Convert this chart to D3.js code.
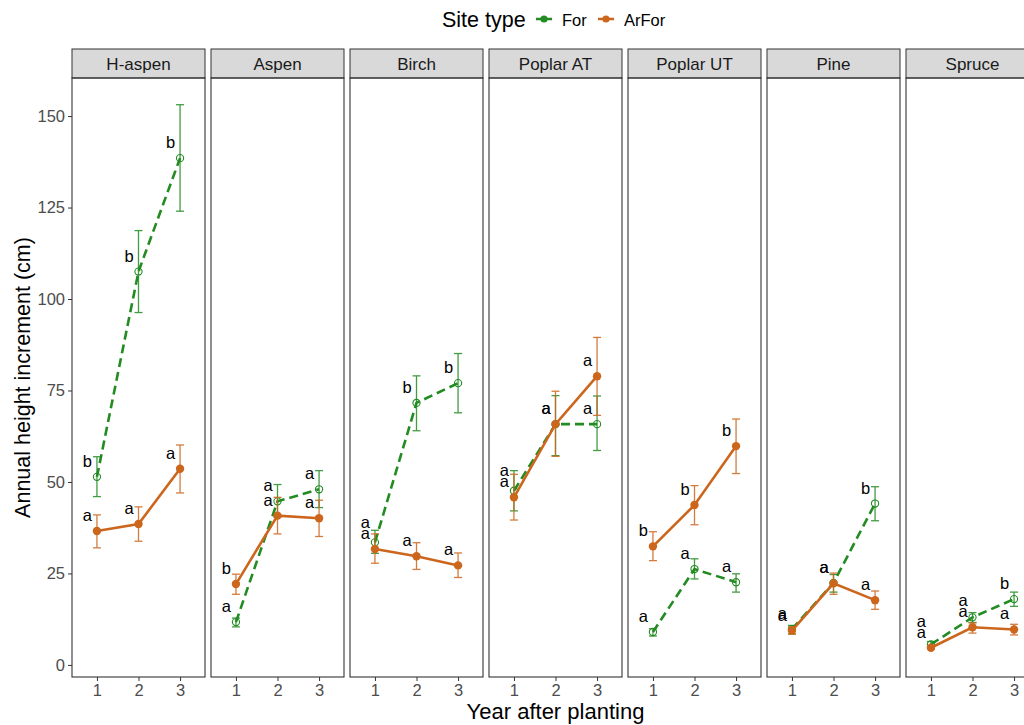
<!DOCTYPE html>
<html>
<head>
<meta charset="utf-8">
<script src="https://cdn.jsdelivr.net/npm/d3@7"></script>
<style>
  body { margin: 0; background: #fff; }
  svg text { font-family: "Liberation Sans", Arial, sans-serif; }
  .tick text { fill: #4d4d4d; font-size: 16.5px; }
  .tick line { stroke: #333; }
  .domain { display: none; }
</style>
</head>
<body>
<svg id="chart"></svg>
<script>
// facets, years, groups
const species = ["H-aspen", "Aspen", "Birch", "Poplar AT", "Poplar UT", "Pine", "Spruce"];
const years = [1, 2, 3];
const siteTypes = ["For", "ArFor"];
const yTicks = [0, 25, 50, 75, 100, 125, 150];

// "For" sites (green, dashed, open points)
const forMean = [[51.4, 107.5, 138.5], [11.7, 44.7, 48.0], [33.5, 71.6, 77.0], [47.6, 65.8, 65.8], [9.0, 26.2, 22.6], [9.8, 22.4, 44.1], [5.6, 13.0, 18.0]];
const forLow = [[46.0, 96.3, 124.0], [10.4, 40.4, 43.0], [30.5, 64.0, 68.9], [42.1, 57.2, 58.6], [7.9, 23.5, 19.9], [8.5, 19.9, 39.4], [5.0, 11.6, 16.0]];
const forHigh = [[56.9, 118.7, 153.1], [12.8, 49.3, 53.1], [36.8, 79.0, 85.1], [53.1, 73.6, 73.5], [9.9, 29.0, 24.9], [10.8, 24.7, 48.7], [6.4, 14.3, 19.9]];
const forLetters = [["b", "b", "b"], ["a", "a", "a"], ["a", "b", "b"], ["a", "a", "a"], ["a", "a", "a"], ["a", "a", "b"], ["a", "a", "b"]];

// "ArFor" sites (orange, solid, filled points)
const arForMean = [[36.6, 38.5, 53.6], [22.1, 40.8, 40.1], [31.7, 29.7, 27.2], [45.8, 65.8, 78.9], [32.4, 43.7, 59.8], [9.4, 22.3, 17.7], [4.7, 10.3, 9.7]];
const arForLow = [[32.0, 33.8, 47.0], [19.3, 35.8, 35.1], [27.8, 26.1, 23.9], [39.6, 57.0, 68.2], [28.5, 38.3, 52.3], [8.4, 19.3, 15.2], [4.3, 8.7, 8.2]];
const arForHigh = [[41.0, 43.2, 60.1], [24.8, 45.8, 45.0], [35.8, 33.4, 30.6], [52.1, 74.8, 89.5], [36.4, 49.0, 67.2], [10.4, 25.1, 20.2], [5.3, 11.5, 11.1]];
const arForLetters = [["a", "a", "a"], ["b", "a", "a"], ["a", "a", "a"], ["a", "a", "a"], ["b", "b", "b"], ["a", "a", "a"], ["a", "a", "a"]];

const colors = { For: "#228B22", ArFor: "#CD661D" };

class FacetChart {
    constructor(_config) {
        this.config = {
            parentElement: _config.parentElement,
            containerWidth: _config.containerWidth || 1024,
            containerHeight: _config.containerHeight || 725,
            margin: _config.margin || { top: 78, left: 72, bottom: 48 },
            stripHeight: 29,
            facetStep: 139
        };
        this.initVis();
    }

    initVis() {
        let vis = this;
        const m = vis.config.margin;
        vis.height = vis.config.containerHeight - m.top - m.bottom;

        // build long-format rows from the arrays
        vis.rows = [];
        species.forEach((sp, i) => {
            years.forEach((yr, j) => {
                vis.rows.push({ species: sp, year: yr, group: "For", mean: forMean[i][j], low: forLow[i][j], high: forHigh[i][j], letter: forLetters[i][j] });
                vis.rows.push({ species: sp, year: yr, group: "ArFor", mean: arForMean[i][j], low: arForLow[i][j], high: arForHigh[i][j], letter: arForLetters[i][j] });
            });
        });

        const pad = 6 / vis.config.facetStep;
        vis.facetScale = d3.scaleBand()
            .domain(species)
            .range([m.left, m.left + species.length * vis.config.facetStep - 6])
            .paddingInner(pad)
            .paddingOuter(0);
        vis.bw = vis.facetScale.bandwidth();

        vis.xScale = d3.scaleLinear().domain([0.4, 3.6]).range([0, vis.bw]);
        vis.yScale = d3.scaleLinear().domain([-3.3, 160.4]).range([m.top + vis.height, m.top]);

        vis.svg = d3.select(vis.config.parentElement)
            .attr('width', vis.config.containerWidth)
            .attr('height', vis.config.containerHeight);

        // y axis on the first facet only
        vis.svg.append('g')
            .attr('transform', `translate(${m.left},0)`)
            .call(d3.axisLeft(vis.yScale).tickValues(yTicks).tickSize(4).tickPadding(3));

        // legend
        const lg = vis.svg.append('g').attr('class', 'legend');
        lg.append('text').attr('x', 442).attr('y', 27).attr('font-size', 21.5).attr('fill', '#000').text('Site type');
        const keyX = { For: 536, ArFor: 598 };
        siteTypes.forEach(g => {
            lg.append('line').attr('x1', keyX[g]).attr('x2', keyX[g] + 16).attr('y1', 19).attr('y2', 19)
                .attr('stroke', colors[g]).attr('stroke-width', 2.5);
            lg.append('circle').attr('cx', keyX[g] + 8).attr('cy', 19).attr('r', 3.6).attr('fill', colors[g]);
            lg.append('text').attr('x', keyX[g] + 26).attr('y', 26).attr('font-size', 16.5).attr('fill', '#000').text(g);
        });

        // axis titles
        vis.svg.append('text')
            .attr('x', (vis.facetScale.range()[0] + vis.facetScale.range()[1]) / 2)
            .attr('y', 719)
            .attr('text-anchor', 'middle')
            .attr('font-size', 22)
            .text('Year after planting');
        vis.svg.append('text')
            .attr('transform', `translate(30,${m.top + vis.height / 2}) rotate(-90)`)
            .attr('text-anchor', 'middle')
            .attr('font-size', 21.5)
            .text('Annual height increment (cm)');

        vis.renderVis();
    }

    renderVis() {
        let vis = this;
        const m = vis.config.margin;
        const line = d3.line().x(d => vis.xScale(d.year)).y(d => vis.yScale(d.mean));

        species.forEach(sp => {
            const fx = vis.facetScale(sp);
            const panel = vis.svg.append('g').attr('transform', `translate(${fx},0)`);

            // strip
            panel.append('rect')
                .attr('x', 0).attr('y', m.top - vis.config.stripHeight)
                .attr('width', vis.bw).attr('height', vis.config.stripHeight)
                .attr('fill', '#d9d9d9').attr('stroke', '#333').attr('stroke-width', 1);
            panel.append('text')
                .attr('x', vis.bw / 2).attr('y', m.top - vis.config.stripHeight / 2 + 6)
                .attr('text-anchor', 'middle').attr('font-size', 17).attr('fill', '#1a1a1a')
                .text(sp);

            // x axis
            panel.append('g')
                .attr('transform', `translate(0,${m.top + vis.height})`)
                .call(d3.axisBottom(vis.xScale).tickValues(years).tickFormat(d3.format('d')).tickSize(4).tickPadding(3));

            const data = vis.rows.filter(r => r.species === sp);

            // label positions: above-left of each point; near-colliding pairs get stacked
            data.forEach(d => { d.ly = vis.yScale(d.mean) - 10; });
            years.forEach(yr => {
                const f = data.find(d => d.year === yr && d.group === 'For');
                const a = data.find(d => d.year === yr && d.group === 'ArFor');
                const gap = Math.abs(f.ly - a.ly);
                if (gap > 2 && gap < 11) {
                    const up = f.ly < a.ly ? f : a;
                    const down = up === f ? a : f;
                    up.ly = down.ly - 11;
                }
            });

            siteTypes.forEach(g => {
                const gd = data.filter(r => r.group === g);
                const c = colors[g];
                // error bars
                const eb = panel.append('g').attr('stroke', c).attr('stroke-width', 1.3).attr('opacity', 0.85);
                gd.forEach(d => {
                    const x = vis.xScale(d.year);
                    eb.append('line').attr('x1', x).attr('x2', x).attr('y1', vis.yScale(d.low)).attr('y2', vis.yScale(d.high));
                    eb.append('line').attr('x1', x - 4).attr('x2', x + 4).attr('y1', vis.yScale(d.low)).attr('y2', vis.yScale(d.low));
                    eb.append('line').attr('x1', x - 4).attr('x2', x + 4).attr('y1', vis.yScale(d.high)).attr('y2', vis.yScale(d.high));
                });
                panel.append('path')
                    .datum(gd)
                    .attr('d', line)
                    .attr('fill', 'none')
                    .attr('stroke', c)
                    .attr('stroke-width', 2.6)
                    .attr('stroke-dasharray', g === 'For' ? '9,5' : null);
                panel.selectAll(null)
                    .data(gd)
                    .join('circle')
                    .attr('cx', d => vis.xScale(d.year))
                    .attr('cy', d => vis.yScale(d.mean))
                    .attr('r', g === 'For' ? 3.6 : 4.2)
                    .attr('fill', g === 'For' ? '#fff' : c)
                    .attr('fill-opacity', g === 'For' ? 0 : 1)
                    .attr('stroke', c)
                    .attr('stroke-width', g === 'For' ? 1.1 : 0);
                panel.selectAll(null)
                    .data(gd)
                    .join('text')
                    .attr('x', d => vis.xScale(d.year) - 9.5)
                    .attr('y', d => d.ly)
                    .attr('text-anchor', 'middle')
                    .attr('font-size', 16.5)
                    .attr('fill', '#000')
                    .text(d => d.letter);
            });

            // panel border
            panel.append('rect')
                .attr('x', 0).attr('y', m.top)
                .attr('width', vis.bw).attr('height', vis.height)
                .attr('fill', 'none').attr('stroke', '#333').attr('stroke-width', 1.1);
        });
    }
}

new FacetChart({ parentElement: '#chart' });
</script>
</body>
</html>
